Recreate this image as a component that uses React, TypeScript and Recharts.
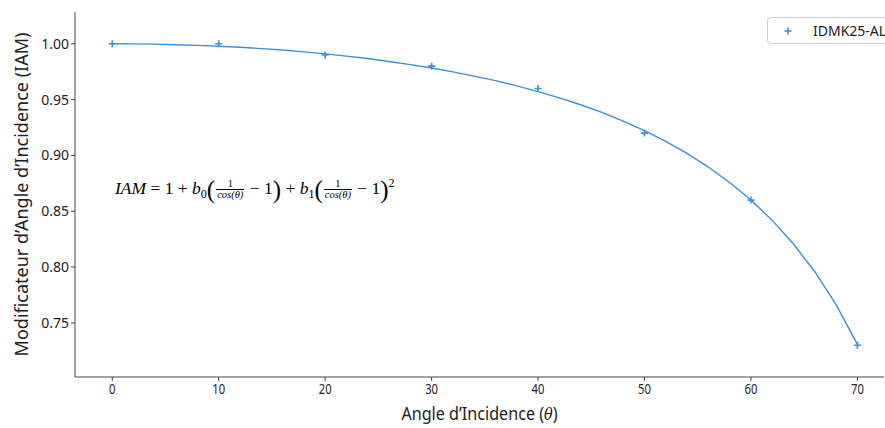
import { ComposedChart, Line, Scatter, XAxis, YAxis } from 'recharts'

// measured points
const angles = [0, 10, 20, 30, 40, 50, 60, 70]
const iamValues = [1.0, 1.0, 0.99, 0.98, 0.96, 0.92, 0.86, 0.73]

// fitted curve, every 2 degrees
const fitAngles = [
  0, 2, 4, 6, 8, 10, 12, 14, 16, 18, 20, 22, 24, 26, 28, 30, 32, 34,
  36, 38, 40, 42, 44, 46, 48, 50, 52, 54, 56, 58, 60, 62, 64, 66, 68, 70,
]
const fitValues = [
  1.0, 0.9999, 0.9997, 0.9992, 0.9986, 0.9978, 0.9969, 0.9957, 0.9944, 0.9928,
  0.991, 0.989, 0.9868, 0.9842, 0.9814, 0.9783, 0.9749, 0.9711, 0.967, 0.9623,
  0.9572, 0.9516, 0.9454, 0.9385, 0.9308, 0.9222, 0.9126, 0.9018, 0.8896, 0.8758,
  0.86, 0.8418, 0.8206, 0.7958, 0.7663, 0.7307,
]

const xTicks = [0, 10, 20, 30, 40, 50, 60, 70]
const yTicks = [0.75, 0.8, 0.85, 0.9, 0.95, 1.0]
const seriesName = 'IDMK25-AL'

const points = angles.map((a, i) => ({ angle: a, iam: iamValues[i] }))
const curve = fitAngles.map((a, i) => ({ angle: a, fit: fitValues[i] }))

const BLUE = '#3a8fdb'
const AXIS = '#444'
const SANS = "'Noto Sans', sans-serif"

const PlusMarker = (props: any) => {
  const { cx, cy } = props
  if (cx == null || cy == null) return null
  return (
    <path
      d={`M${cx - 3.5},${cy}H${cx + 3.5}M${cx},${cy - 3.5}V${cy + 3.5}`}
      stroke={BLUE}
      strokeWidth={1.6}
    />
  )
}

const NarrowTick = (props: any) => {
  const { x, y, payload } = props
  return (
    <g transform={`translate(${x},${y})`}>
      <text transform="scale(0.75,1)" textAnchor="middle" dy={11} fontSize={15} fill="#222" fontFamily={SANS}>
        {payload.value}
      </text>
    </g>
  )
}

const XLabel = (props: any) => {
  const vb = props.viewBox || {}
  const cx = vb.x + vb.width / 2
  return (
    <g transform={`translate(${cx},420)`}>
      <text transform="scale(0.85,1)" textAnchor="middle" fontSize={19} fill="#222" fontFamily={SANS}>
        Angle d’Incidence (<tspan fontStyle="italic" fontFamily="'DejaVu Serif', serif" fontSize={17}>θ</tspan>)
      </text>
    </g>
  )
}

const LegendBox = () => (
  <div
    style={{
      position: 'absolute',
      left: 767,
      top: 17,
      border: '1px solid #d0d0d0',
      borderRadius: 4,
      height: 25,
      width: 130,
      display: 'flex',
      alignItems: 'center',
      fontFamily: SANS,
      fontSize: 14,
      color: '#222',
      background: '#fff',
    }}
  >
    <svg width={40} height={20}>
      <path d="M16.5,10H23.5M20,6.5V13.5" stroke={BLUE} strokeWidth={1.6} />
    </svg>
    <span style={{ marginLeft: 5 }}>{seriesName}</span>
  </div>
)

const Frac = ({ top, bottom }: { top: string; bottom: string }) => (
  <span
    style={{
      display: 'inline-flex',
      flexDirection: 'column',
      alignItems: 'center',
      fontSize: 10.5,
      lineHeight: '10px',
      verticalAlign: 'middle',
      margin: '0 1px',
    }}
  >
    <span style={{ fontStyle: 'normal' }}>{top}</span>
    <span style={{ borderTop: '0.8px solid #000', fontStyle: 'italic', padding: '0 1px' }}>{bottom}</span>
  </span>
)

const Big = ({ c }: { c: string }) => (
  <span style={{ fontSize: 25, fontStyle: 'normal', verticalAlign: 'middle', lineHeight: '20px' }}>{c}</span>
)

const Formula = () => (
  <div
    style={{
      position: 'absolute',
      left: 115,
      top: 176,
      fontFamily: "'Liberation Serif', 'DejaVu Serif', serif",
      fontSize: 17.5,
      color: '#000',
      whiteSpace: 'nowrap',
    }}
  >
    <i>IAM</i> = 1 + <i>b</i><sub style={{ fontSize: 12 }}>0</sub>
    <Big c="(" />
    <Frac top="1" bottom="cos(θ)" /> − 1<Big c=")" /> + <i>b</i>
    <sub style={{ fontSize: 12 }}>1</sub>
    <Big c="(" />
    <Frac top="1" bottom="cos(θ)" /> − 1<Big c=")" />
    <sup style={{ fontSize: 12 }}>2</sup>
  </div>
)

export default function App() {
  return (
    <div style={{ position: 'absolute', left: 0, top: 0, width: 885, height: 428, background: '#fff' }}>
      <ComposedChart width={885} height={428} margin={{ top: 12, right: 1, bottom: 0, left: 0 }}>
        <XAxis
          dataKey="angle"
          type="number"
          domain={[-3.5, 72.5]}
          ticks={xTicks}
          allowDataOverflow
          stroke={AXIS}
          tickSize={4}
          height={51}
          tick={<NarrowTick />}
          label={<XLabel />}
        />
        <YAxis
          type="number"
          domain={[0.7015, 1.0285]}
          ticks={yTicks}
          allowDataOverflow
          tickFormatter={(v: number) => v.toFixed(2)}
          stroke={AXIS}
          tickSize={4}
          width={75}
          tick={{ fontSize: 14, fill: '#222', fontFamily: SANS }}
          label={{
            value: 'Modificateur d’Angle d’Incidence (IAM)',
            angle: -90,
            position: 'insideLeft',
            offset: 22,
            style: { textAnchor: 'middle', fontSize: 18, fill: '#222', fontFamily: SANS },
          }}
        />
        <Line
          data={curve}
          dataKey="fit"
          type="linear"
          stroke={BLUE}
          strokeWidth={1.4}
          dot={false}
          activeDot={false}
          legendType="none"
          isAnimationActive={false}
        />
        <Scatter
          data={points}
          dataKey="iam"
          name={seriesName}
          fill={BLUE}
          shape={<PlusMarker />}
          isAnimationActive={false}
        />
      </ComposedChart>
      <Formula />
      <LegendBox />
    </div>
  )
}
